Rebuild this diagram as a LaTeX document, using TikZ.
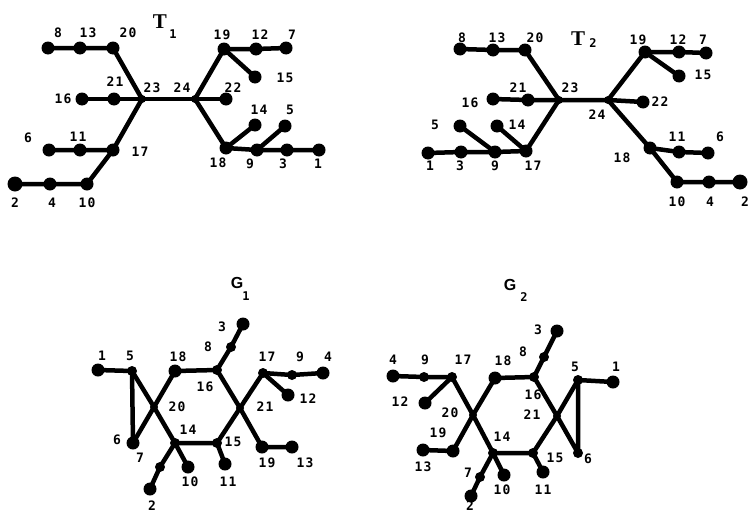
\documentclass[tikz,border=0pt]{standalone}
\usepackage{fontspec}
\newfontfamily\labfont{DejaVu Sans Mono}[LetterSpace=8]
\newfontfamily\ttlfont{Liberation Serif}
\newfontfamily\gfont{Liberation Sans}
\tikzset{
  dot/.style={circle, fill=black, inner sep=0pt, minimum size=13pt},
  sdot/.style={circle, fill=black, inner sep=0pt, minimum size=10pt},
  jn/.style={circle, fill=black, inner sep=0pt, minimum size=8pt},
  edge/.style={line width=4.5pt, line cap=round, line join=round},
  lab/.style={font=\labfont\bfseries\fontsize{13}{13}\selectfont, inner sep=0pt},
  ttl/.style={font=\ttlfont\bfseries\fontsize{21}{21}\selectfont, inner sep=0pt},
  gttl/.style={font=\gfont\bfseries\fontsize{16}{16}\selectfont, inner sep=0pt},
  sub/.style={font=\labfont\bfseries\fontsize{12}{12}\selectfont, inner sep=0pt},
}
\newcommand\lb[4]{\node[lab] (#1) at (#2,#3) {#4};}
\begin{document}
\begin{tikzpicture}[x=1pt,y=-1pt]
\useasboundingbox[fill=white] (0,0) rectangle (751,514);
% ---------------- T1 ----------------
\node[dot] (a8) at (48,48) {};
\node[dot] (a13) at (80,48) {};
\node[dot] (a20) at (113,48) {};
\node[dot] (a16) at (82,99) {};
\node[dot] (a21) at (114,99) {};
\node[jn] (a23) at (142,99) {};
\node[jn] (a24) at (195,99) {};
\node[dot] (a22) at (226,99) {};
\node[dot] (a19) at (224,49) {};
\node[dot] (a12) at (256,49) {};
\node[dot] (a7) at (286,48) {};
\node[dot] (a15) at (255,77) {};
\node[dot] (a6) at (49,150) {};
\node[dot] (a11) at (80,150) {};
\node[dot] (a17) at (113,150) {};
\node[dot,minimum size=15pt] (a2) at (15,184) {};
\node[dot] (a4) at (50,184) {};
\node[dot] (a10) at (87,184) {};
\node[dot] (a18) at (226,148) {};
\node[dot] (a14) at (255,125) {};
\node[dot] (a5) at (285,126) {};
\node[dot] (a9) at (257,150) {};
\node[dot] (a3) at (287,150) {};
\node[dot] (a1) at (319,150) {};
\draw[edge] (a8.center) -- (a13.center) -- (a20.center) -- (a23.center);
\draw[edge] (a16.center) -- (a21.center) -- (a23.center) -- (a24.center) -- (a22.center);
\draw[edge] (a6.center) -- (a11.center) -- (a17.center) -- (a23.center);
\draw[edge] (a2.center) -- (a4.center) -- (a10.center) -- (a17.center);
\draw[edge] (a24.center) -- (a19.center) -- (a12.center) -- (a7.center);
\draw[edge] (a19.center) -- (a15.center);
\draw[edge] (a24.center) -- (a18.center) -- (a9.center) -- (a3.center) -- (a1.center);
\draw[edge] (a18.center) -- (a14.center);
\draw[edge] (a9.center) -- (a5.center);
\node[ttl] (tT1) at (160,22) {T};
\node[sub] (tS1) at (173,34) {1};
\lb{la8}{58}{33}{8}
\lb{la13}{88}{33}{13}
\lb{la20}{128}{33}{20}
\lb{la19}{222}{35}{19}
\lb{la12}{260}{35}{12}
\lb{la7}{292}{35}{7}
\lb{la21}{115}{82}{21}
\lb{la23}{152}{88}{23}
\lb{la24}{182}{88}{24}
\lb{la22}{233}{88}{22}
\lb{la16}{63}{99}{16}
\lb{la15}{285}{78}{15}
\lb{la14}{259}{110}{14}
\lb{la5}{290}{110}{5}
\lb{la6}{28}{138}{6}
\lb{la11}{78}{137}{11}
\lb{la17}{140}{152}{17}
\lb{la18}{218}{163}{18}
\lb{la9}{250}{164}{9}
\lb{la3}{283}{164}{3}
\lb{la1}{318}{164}{1}
\lb{la2}{15}{203}{2}
\lb{la4}{52}{203}{4}
\lb{la10}{87}{203}{10}
% ---------------- T2 ----------------
\node[dot] (b8) at (460,49) {};
\node[dot] (b13) at (493,50) {};
\node[dot] (b20) at (525,50) {};
\node[dot] (b16) at (493,99) {};
\node[dot] (b21) at (528,100) {};
\node[jn] (b23) at (559,100) {};
\node[jn] (b24) at (608,100) {};
\node[dot] (b22) at (643,102) {};
\node[dot] (b19) at (645,52) {};
\node[dot] (b12) at (679,52) {};
\node[dot] (b7) at (706,53) {};
\node[dot] (b15) at (679,76) {};
\node[dot] (b5) at (460,126) {};
\node[dot] (b14) at (497,126) {};
\node[dot] (b1) at (428,153) {};
\node[dot] (b3) at (461,152) {};
\node[dot] (b9) at (495,152) {};
\node[dot] (b17) at (526,151) {};
\node[dot] (b18) at (650,148) {};
\node[dot] (b11) at (679,152) {};
\node[dot] (b6) at (708,153) {};
\node[dot] (b10) at (677,182) {};
\node[dot] (b4) at (709,182) {};
\node[dot,minimum size=15pt] (b2) at (740,182) {};
\draw[edge] (b8.center) -- (b13.center) -- (b20.center) -- (b23.center);
\draw[edge] (b16.center) -- (b21.center) -- (b23.center) -- (b24.center) -- (b22.center);
\draw[edge] (b1.center) -- (b3.center) -- (b9.center) -- (b17.center) -- (b23.center);
\draw[edge] (b5.center) -- (b9.center);
\draw[edge] (b14.center) -- (b17.center);
\draw[edge] (b24.center) -- (b19.center) -- (b12.center) -- (b7.center);
\draw[edge] (b19.center) -- (b15.center);
\draw[edge] (b24.center) -- (b18.center) -- (b10.center) -- (b4.center) -- (b2.center);
\draw[edge] (b18.center) -- (b11.center) -- (b6.center);
\node[ttl] (tT2) at (578,39) {T};
\node[sub] (tS2) at (593,43) {2};
\lb{lb8}{462}{38}{8}
\lb{lb13}{497}{38}{13}
\lb{lb20}{535}{38}{20}
\lb{lb16}{470}{103}{16}
\lb{lb21}{518}{88}{21}
\lb{lb23}{570}{88}{23}
\lb{lb24}{597}{115}{24}
\lb{lb22}{660}{102}{22}
\lb{lb19}{638}{40}{19}
\lb{lb12}{678}{40}{12}
\lb{lb7}{703}{40}{7}
\lb{lb15}{703}{75}{15}
\lb{lb5}{435}{125}{5}
\lb{lb14}{517}{125}{14}
\lb{lb1}{430}{166}{1}
\lb{lb3}{460}{166}{3}
\lb{lb9}{495}{166}{9}
\lb{lb17}{533}{166}{17}
\lb{lb18}{622}{158}{18}
\lb{lb11}{677}{137}{11}
\lb{lb6}{720}{137}{6}
\lb{lb10}{677}{202}{10}
\lb{lb4}{710}{202}{4}
\lb{lb2}{745}{202}{2}
% ---------------- G1 ----------------
\node[dot] (c1) at (98,370) {};
\node[sdot] (c5) at (132,371) {};
\node[dot] (c6) at (133,443) {};
\node[jn] (c20) at (154,407) {};
\node[dot] (c18) at (175,371) {};
\node[sdot] (c16) at (217,370) {};
\node[sdot] (c8) at (231,347) {};
\node[dot] (c3) at (243,324) {};
\node[jn] (c21) at (240,408) {};
\node[sdot] (c14) at (175,443) {};
\node[sdot] (c15) at (217,443) {};
\node[sdot] (c17) at (263,373) {};
\node[sdot] (c9) at (292,375) {};
\node[dot] (c4) at (323,373) {};
\node[dot] (c12) at (288,395) {};
\node[dot] (c19) at (262,447) {};
\node[dot] (c13) at (292,447) {};
\node[dot] (c11) at (225,464) {};
\node[dot] (c10) at (188,467) {};
\node[sdot] (c7) at (160,467) {};
\node[dot] (c2) at (150,489) {};
\draw[edge] (c1.center) -- (c5.center) -- (c6.center);
\draw[edge] (c5.center) -- (c20.center) -- (c14.center);
\draw[edge] (c18.center) -- (c20.center) -- (c6.center);
\draw[edge] (c18.center) -- (c16.center) -- (c21.center) -- (c15.center) -- (c14.center);
\draw[edge] (c16.center) -- (c8.center) -- (c3.center);
\draw[edge] (c21.center) -- (c17.center) -- (c9.center) -- (c4.center);
\draw[edge] (c17.center) -- (c12.center);
\draw[edge] (c21.center) -- (c19.center) -- (c13.center);
\draw[edge] (c15.center) -- (c11.center);
\draw[edge] (c14.center) -- (c10.center);
\draw[edge] (c14.center) -- (c7.center) -- (c2.center);
\node[gttl] (tG1) at (237,283) {G};
\node[sub] (tSG1) at (246,296) {1};
\lb{lc3}{222}{327}{3}
\lb{lc8}{208}{347}{8}
\lb{lc16}{205}{387}{16}
\lb{lc18}{178}{357}{18}
\lb{lc1}{102}{356}{1}
\lb{lc5}{130}{356}{5}
\lb{lc20}{177}{407}{20}
\lb{lc6}{117}{440}{6}
\lb{lc14}{188}{430}{14}
\lb{lc15}{233}{442}{15}
\lb{lc21}{265}{407}{21}
\lb{lc17}{267}{357}{17}
\lb{lc9}{300}{357}{9}
\lb{lc4}{328}{357}{4}
\lb{lc12}{308}{399}{12}
\lb{lc19}{267}{463}{19}
\lb{lc13}{305}{463}{13}
\lb{lc11}{228}{482}{11}
\lb{lc10}{190}{482}{10}
\lb{lc7}{140}{458}{7}
\lb{lc2}{152}{506}{2}
% ---------------- G2 ----------------
\node[dot] (d3) at (557,331) {};
\node[sdot] (d8) at (544,357) {};
\node[sdot] (d16) at (534,377) {};
\node[dot] (d18) at (495,378) {};
\node[sdot] (d17) at (452,377) {};
\node[sdot] (d9) at (424,377) {};
\node[dot] (d4) at (393,376) {};
\node[dot] (d12) at (425,403) {};
\node[jn] (d20) at (473,415) {};
\node[jn] (d21) at (557,416) {};
\node[sdot] (d5) at (578,380) {};
\node[dot] (d1) at (613,382) {};
\node[sdot] (d6) at (578,453) {};
\node[dot] (d19) at (453,451) {};
\node[dot] (d13) at (423,450) {};
\node[sdot] (d14) at (493,453) {};
\node[sdot] (d15) at (533,453) {};
\node[dot] (d11) at (543,472) {};
\node[dot] (d10) at (504,475) {};
\node[sdot] (d7) at (480,477) {};
\node[dot] (d2) at (471,496) {};
\draw[edge] (d4.center) -- (d9.center) -- (d17.center) -- (d20.center) -- (d14.center);
\draw[edge] (d17.center) -- (d12.center);
\draw[edge] (d18.center) -- (d20.center) -- (d19.center) -- (d13.center);
\draw[edge] (d18.center) -- (d16.center) -- (d21.center) -- (d15.center) -- (d14.center);
\draw[edge] (d16.center) -- (d8.center) -- (d3.center);
\draw[edge] (d21.center) -- (d5.center) -- (d1.center);
\draw[edge] (d5.center) -- (d6.center) -- (d21.center);
\draw[edge] (d15.center) -- (d11.center);
\draw[edge] (d14.center) -- (d10.center);
\draw[edge] (d14.center) -- (d7.center) -- (d2.center);
\node[gttl] (tG2) at (510,285) {G};
\node[sub] (tSG2) at (524,297) {2};
\lb{ld3}{538}{330}{3}
\lb{ld8}{523}{352}{8}
\lb{ld16}{533}{395}{16}
\lb{ld18}{503}{361}{18}
\lb{ld17}{463}{360}{17}
\lb{ld9}{425}{360}{9}
\lb{ld4}{393}{360}{4}
\lb{ld12}{400}{402}{12}
\lb{ld20}{450}{413}{20}
\lb{ld21}{532}{415}{21}
\lb{ld5}{575}{367}{5}
\lb{ld1}{616}{367}{1}
\lb{ld6}{588}{459}{6}
\lb{ld19}{438}{433}{19}
\lb{ld13}{423}{467}{13}
\lb{ld14}{502}{437}{14}
\lb{ld15}{555}{458}{15}
\lb{ld11}{543}{490}{11}
\lb{ld10}{502}{490}{10}
\lb{ld7}{468}{473}{7}
\lb{ld2}{470}{506}{2}
\end{tikzpicture}
\end{document}
